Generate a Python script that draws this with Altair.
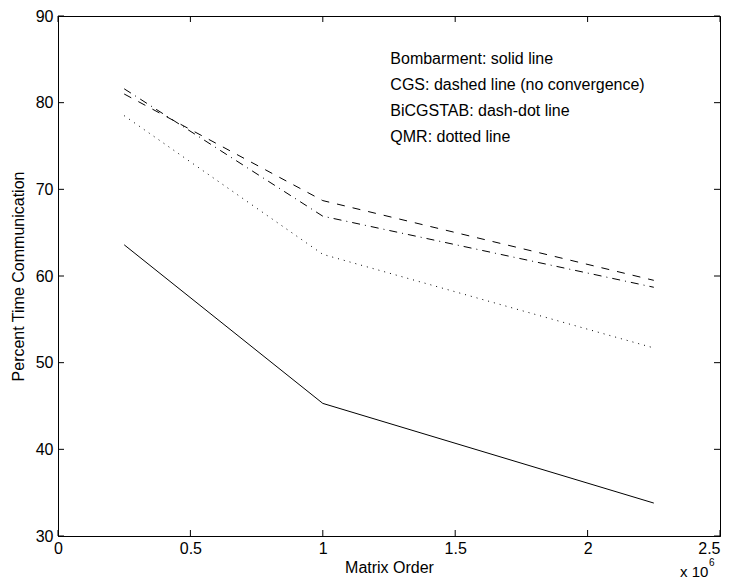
import altair as alt
import pandas as pd

# ---- data ----
x_order = [0.25, 1.0, 2.25]                 # matrix order (x 10^6)
bombarment = [63.6, 45.3, 33.8]             # solid
cgs = [81.0, 68.7, 59.5]                    # dashed
bicgstab = [81.6, 66.9, 58.7]               # dash-dot
qmr = [78.5, 62.5, 51.7]                    # dotted

x_ticks = [0, 0.5, 1.0, 1.5, 2.0, 2.5]
y_ticks = [30, 40, 50, 60, 70, 80, 90]

note_lines = [
    "Bombarment: solid line",
    "CGS: dashed line (no convergence)",
    "BiCGSTAB: dash-dot line",
    "QMR: dotted line",
]
note_y = [85, 82, 79, 76]
note_x = [1.255, 1.255, 1.255, 1.255]

FONT = "Liberation Sans"
FS = 16
W, H = 662, 520
TL = 6  # inward tick length

xs = alt.Scale(domain=[0, 2.5], nice=False, zero=False)
ys = alt.Scale(domain=[30, 90], nice=False, zero=False)

x_axis = alt.Axis(values=x_ticks, format="~g", title="Matrix Order", ticks=False,
                  grid=False, labelPadding=4, titlePadding=3, labelFlush=False,
                  labelAlign=alt.ExprRef(expr="datum.value >= 2.5 ? 'right' : 'center'"),
                  labelOverlap=False)
y_axis = alt.Axis(values=y_ticks, format="d", title="Percent Time Communication",
                  ticks=False, grid=False, labelPadding=5, titlePadding=9, labelFlush=False)


def X(field):
    return alt.X(f"{field}:Q", scale=xs, axis=x_axis, title="Matrix Order")


def Y(field):
    return alt.Y(f"{field}:Q", scale=ys, axis=y_axis, title="Percent Time Communication")


series = [
    (bombarment, None),
    (cgs, [8, 8]),
    (bicgstab, [8, 5, 1, 5]),
    (qmr, [1, 5]),
]

layers = []
for vals, dash in series:
    df = pd.DataFrame({"x": x_order, "y": vals})
    kw = dict(color="black", strokeWidth=1)
    if dash is not None:
        kw["strokeDash"] = dash
    layers.append(alt.Chart(df).mark_line(**kw).encode(x=X("x"), y=Y("y")))

# inward ticks on all four sides
xt = pd.DataFrame({"x": x_ticks})
yt = pd.DataFrame({"y": y_ticks})
layers.append(alt.Chart(xt).mark_rule(color="black", strokeWidth=1).encode(
    x=X("x"), y=alt.value(H), y2=alt.value(H - TL)))
layers.append(alt.Chart(xt).mark_rule(color="black", strokeWidth=1).encode(
    x=X("x"), y=alt.value(0), y2=alt.value(TL)))
layers.append(alt.Chart(yt).mark_rule(color="black", strokeWidth=1).encode(
    y=Y("y"), x=alt.value(0), x2=alt.value(TL)))
layers.append(alt.Chart(yt).mark_rule(color="black", strokeWidth=1).encode(
    y=Y("y"), x=alt.value(W), x2=alt.value(W - TL)))

# annotation text
notes = pd.DataFrame({"x": note_x, "y": note_y, "label": note_lines})
layers.append(alt.Chart(notes).mark_text(align="left", baseline="middle", font=FONT,
                                         fontSize=16, color="black").encode(
    x=X("x"), y=Y("y"), text="label:N"))

# x 10^6 exponent label
exp_df = pd.DataFrame({"label": ["x 10"]})
layers.append(alt.Chart(exp_df).mark_text(align="left", baseline="middle", font=FONT,
                                          fontSize=15, color="black").encode(
    x=alt.value(622), y=alt.value(556), text="label:N"))
sup_df = pd.DataFrame({"label": ["6"]})
layers.append(alt.Chart(sup_df).mark_text(align="left", baseline="middle", font=FONT,
                                          fontSize=10, color="black").encode(
    x=alt.value(651), y=alt.value(547), text="label:N"))

chart = alt.layer(*layers).properties(
    width=W, height=H,
    autosize=alt.AutoSizeParams(type="none"),
    padding={"left": 50, "top": 8, "right": 6, "bottom": 44},
    background="white",
).configure_view(
    stroke="black", strokeWidth=1
).configure_axis(
    domainColor="black", domainWidth=1,
    labelFont=FONT, labelFontSize=FS, labelColor="black",
    titleFont=FONT, titleFontSize=FS, titleColor="black", titleFontWeight="normal",
)

chart.save("out.html", embed_options={"renderer": "svg", "actions": False})
